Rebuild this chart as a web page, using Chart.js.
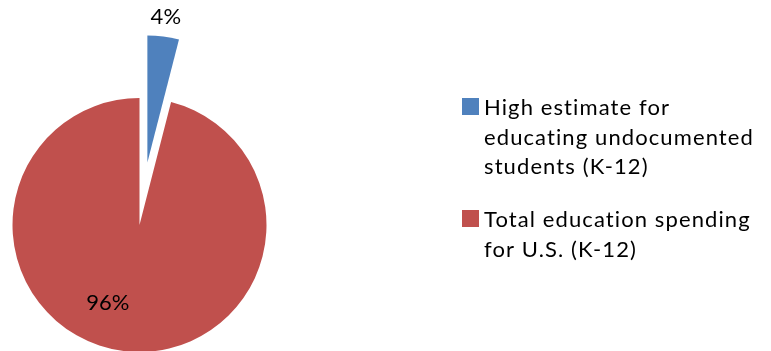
<!DOCTYPE html>
<html><head><meta charset="utf-8">
<script src="https://cdn.jsdelivr.net/npm/chart.js@4"></script>
<style>html,body{margin:0;padding:0;background:#fff;}#wrap{width:771px;height:351px;position:relative;}</style>
</head><body><div id="wrap"><canvas id="c" width="771" height="351"></canvas></div>
<script>
const categories = ['High estimate for educating undocumented students (K-12)', 'Total education spending for U.S. (K-12)'];
const legendLines = [['High estimate for', 'educating undocumented', 'students (K-12)'], ['Total education spending', 'for U.S. (K-12)']];
const values = [4, 96];
const percentLabels = ['4%', '96%'];
const colors = ['#4F81BD', '#C0504D'];
const explode = [63, 0];

const FONT = '22px Lato';

// Excel-style exploded slices: move exploded arcs away from the centre along their mid-angle
const explodePlugin = {
  id: 'explode',
  afterDatasetsUpdate(chart) {
    const meta = chart.getDatasetMeta(0);
    meta.data.forEach((arc, i) => {
      const off = explode[i] || 0;
      if (!off) return;
      const mid = (arc.startAngle + arc.endAngle) / 2;
      arc.x += Math.cos(mid) * off;
      arc.y += Math.sin(mid) * off;
    });
  }
};

const labelPlugin = {
  id: 'labels',
  afterDatasetsDraw(chart) {
    const ctx = chart.ctx;
    const meta = chart.getDatasetMeta(0);
    ctx.save();
    ctx.font = FONT;
    ctx.fillStyle = '#000';
    ctx.textAlign = 'center';
    ctx.textBaseline = 'middle';
    meta.data.forEach((arc, i) => {
      const p = arc.getProps(['x', 'y', 'startAngle', 'endAngle', 'outerRadius']);
      const mid = (p.startAngle + p.endAngle) / 2;
      let lx, ly;
      if (explode[i] > 0) {
        lx = p.x + Math.cos(mid) * (p.outerRadius + 20);
        ly = p.y + Math.sin(mid) * (p.outerRadius + 20);
      } else {
        const a = mid + 15 * Math.PI / 180;
        lx = p.x + Math.cos(a) * p.outerRadius * 0.66;
        ly = p.y + Math.sin(a) * p.outerRadius * 0.66;
      }
      ctx.fillText(percentLabels[i], lx, ly);
    });
    // legend
    ctx.textAlign = 'left';
    ctx.textBaseline = 'alphabetic';
    ctx.letterSpacing = '1.1px';
    const boxX = 462, textX = 484, lineH = 29.5;
    let y = 115;
    legendLines.forEach((lines, i) => {
      ctx.fillStyle = colors[i];
      ctx.fillRect(boxX, y - 17, 17, 17);
      ctx.fillStyle = '#000';
      lines.forEach((t, j) => ctx.fillText(t, textX, y + j * lineH));
      y += lines.length * lineH + 23.5;
    });
    ctx.restore();
  }
};

new Chart(document.getElementById('c'), {
  type: 'pie',
  data: {
    labels: categories,
    datasets: [{
      data: values,
      backgroundColor: colors,
      borderWidth: 0,
      clip: false
    }]
  },
  options: {
    responsive: false,
    animation: false,
    events: [],
    radius: 127,
    layout: { padding: { left: 13, right: 505, top: 99, bottom: 0 } },
    plugins: { legend: { display: false }, tooltip: { enabled: false } }
  },
  plugins: [explodePlugin, labelPlugin]
});
</script></body></html>
